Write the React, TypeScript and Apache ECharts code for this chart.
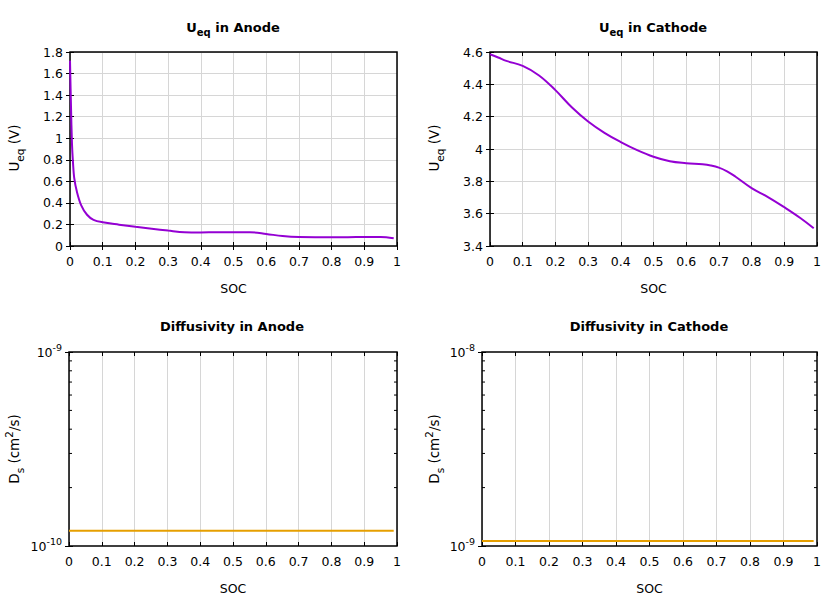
import React, { useEffect, useRef } from "react";
import * as echarts from "echarts";

const FONT = "DejaVu Sans";

// Anode equilibrium potential
const socAnode = [0, 0.003, 0.006, 0.009, 0.013, 0.021, 0.034, 0.052, 0.072, 0.1, 0.15, 0.2, 0.25, 0.3, 0.35, 0.4, 0.45, 0.5, 0.55, 0.6, 0.65, 0.7, 0.75, 0.8, 0.85, 0.9, 0.95, 0.99];
const ueqAnode = [1.72, 1.3, 0.95, 0.78, 0.63, 0.505, 0.38, 0.29, 0.243, 0.22, 0.198, 0.178, 0.16, 0.143, 0.128, 0.126, 0.128, 0.128, 0.128, 0.112, 0.092, 0.083, 0.082, 0.082, 0.082, 0.083, 0.084, 0.072];

// Cathode equilibrium potential
const socCathode = [0, 0.025, 0.05, 0.1, 0.15, 0.2, 0.25, 0.3, 0.35, 0.4, 0.45, 0.5, 0.55, 0.6, 0.65, 0.675, 0.7, 0.725, 0.75, 0.8, 0.85, 0.9, 0.95, 0.99];
const ueqCathode = [4.586, 4.566, 4.545, 4.514, 4.455, 4.364, 4.258, 4.17, 4.1, 4.043, 3.993, 3.952, 3.924, 3.912, 3.905, 3.898, 3.885, 3.862, 3.83, 3.758, 3.703, 3.64, 3.572, 3.51];

// Diffusivity
const socDs = [0, 0.99];
const dsAnode = [1.2e-10, 1.2e-10];
const dsCathode = [1.06e-9, 1.06e-9];

// Log-axis minor tick values
const minorAnode = [2e-10, 3e-10, 4e-10, 5e-10, 6e-10, 7e-10, 8e-10, 9e-10];
const minorCathode = [2e-9, 3e-9, 4e-9, 5e-9, 6e-9, 7e-9, 8e-9, 9e-9];

const titles = ["in Anode", "in Cathode", "Diffusivity in Anode", "Diffusivity in Cathode"];

const PURPLE = "#9400D3";
const ORANGE = "#E69F00";
const GRIDLINE = "#d6d6d6";
const TICKFS = 12.5;

const grids = [
  { left: 70, top: 52, width: 327, height: 194 },
  { left: 490, top: 52, width: 327, height: 194 },
  { left: 69, top: 352, width: 328, height: 194 },
  { left: 482, top: 352, width: 335, height: 194 },
];

const zip = (a: number[], b: number[]) => a.map((v, i) => [v, b[i]]);

const supRich = {
  base: { fontSize: TICKFS, fontFamily: FONT, color: "#000", lineHeight: 20 },
  sup: { fontSize: 9.5, fontFamily: FONT, color: "#000", verticalAlign: "top" as const },
};

const tickStyle = { show: true, inside: true, length: 4, lineStyle: { color: "#000", width: 1 } };

function xAxes(gi: number) {
  const common = {
    type: "value" as const,
    gridIndex: gi,
    min: 0,
    max: 1,
    interval: 0.1,
    axisLine: { show: false },
    axisTick: tickStyle,
  };
  return [
    {
      ...common,
      position: "bottom" as const,
      name: "SOC",
      nameLocation: "middle" as const,
      nameGap: 36,
      nameTextStyle: { fontSize: TICKFS, fontFamily: FONT, color: "#000" },
      axisLabel: { fontSize: TICKFS, fontFamily: FONT, color: "#000", margin: 9 },
      splitLine: { show: true, lineStyle: { color: GRIDLINE, width: 1 } },
    },
    {
      ...common,
      position: "top" as const,
      axisLabel: { show: false },
      splitLine: { show: false },
    },
  ];
}

function yAxesLinear(gi: number, min: number, max: number) {
  const common = {
    type: "value" as const,
    gridIndex: gi,
    min,
    max,
    interval: 0.2,
    axisLine: { show: false },
    axisTick: tickStyle,
  };
  return [
    {
      ...common,
      position: "left" as const,
      axisLabel: { fontSize: TICKFS, fontFamily: FONT, color: "#000", margin: 7 },
      splitLine: { show: true, lineStyle: { color: GRIDLINE, width: 1 } },
    },
    {
      ...common,
      position: "right" as const,
      axisLabel: { show: false },
      splitLine: { show: false },
    },
  ];
}

function yAxesLog(gi: number, min: number, max: number) {
  const common = {
    type: "log" as const,
    logBase: 10,
    gridIndex: gi,
    min,
    max,
    axisLine: { show: false },
    axisTick: tickStyle,
    splitLine: { show: false },
  };
  return [
    {
      ...common,
      position: "left" as const,
      axisLabel: {
        margin: 7,
        formatter: (v: number) => `{base|10}{sup|${Math.round(Math.log10(v))}}`,
        rich: supRich,
      },
    },
    {
      ...common,
      position: "right" as const,
      axisLabel: { show: false },
    },
  ];
}

function minorTickSeries(axisIdx: number, values: number[]) {
  return {
    type: "custom" as const,
    xAxisIndex: axisIdx,
    yAxisIndex: axisIdx,
    silent: true,
    clip: false,
    data: values.map((v) => [0, v]),
    renderItem: (params: any, api: any) => {
      const p = api.coord([0, api.value(1)]);
      const cs = params.coordSys;
      const st = { stroke: "#000", lineWidth: 1 };
      return {
        type: "group",
        children: [
          { type: "line", shape: { x1: cs.x, y1: p[1], x2: cs.x + 3, y2: p[1] }, style: st },
          { type: "line", shape: { x1: cs.x + cs.width - 3, y1: p[1], x2: cs.x + cs.width, y2: p[1] }, style: st },
        ],
      };
    },
  };
}

const subTitleRich = {
  b: { fontSize: 13, fontWeight: "bold" as const, fontFamily: FONT, color: "#000", lineHeight: 20 },
  s: { fontSize: 10, fontWeight: "bold" as const, fontFamily: FONT, color: "#000", verticalAlign: "bottom" as const },
};
const nameRich = {
  b: { fontSize: 13.5, fontFamily: FONT, color: "#000", lineHeight: 22 },
  s: { fontSize: 10.5, fontFamily: FONT, color: "#000", verticalAlign: "bottom" as const },
  p: { fontSize: 10.5, fontFamily: FONT, color: "#000", verticalAlign: "top" as const },
};

function titleText(x: number, y: number, text: string, rich?: any) {
  return {
    type: "text" as const,
    x,
    y,
    style: rich
      ? { text, rich, align: "center", verticalAlign: "middle" }
      : { text, fontSize: 13, fontWeight: "bold", fontFamily: FONT, fill: "#000", align: "center", verticalAlign: "middle" },
  };
}

function yName(x: number, y: number, text: string) {
  return {
    type: "text" as const,
    x,
    y,
    rotation: Math.PI / 2,
    style: { text, rich: nameRich, align: "center", verticalAlign: "middle" },
  };
}

export default function App() {
  const ref = useRef<HTMLDivElement>(null);
  useEffect(() => {
    if (!ref.current) return;
    const chart = echarts.init(ref.current, undefined, { renderer: "svg" });
    const lineBase = { type: "line", showSymbol: false };
    const option: any = {
      animation: false,
      backgroundColor: "#fff",
      grid: grids.map((g) => ({ ...g, show: true, borderColor: "#000", borderWidth: 1.5, backgroundColor: "transparent", z: 3 })),
      xAxis: [...xAxes(0), ...xAxes(1), ...xAxes(2), ...xAxes(3)],
      yAxis: [
        ...yAxesLinear(0, 0, 1.8),
        ...yAxesLinear(1, 3.4, 4.6),
        ...yAxesLog(2, 1e-10, 1e-9),
        ...yAxesLog(3, 1e-9, 1e-8),
      ],
      series: [
        {
          ...lineBase,
          xAxisIndex: 0,
          yAxisIndex: 0,
          data: zip(socAnode, ueqAnode),
          smooth: 0.35,
          lineStyle: { color: PURPLE, width: 2 },
          itemStyle: { color: PURPLE },
        },
        {
          ...lineBase,
          xAxisIndex: 2,
          yAxisIndex: 2,
          data: zip(socCathode, ueqCathode),
          smooth: 0.4,
          lineStyle: { color: PURPLE, width: 2 },
          itemStyle: { color: PURPLE },
        },
        {
          ...lineBase,
          xAxisIndex: 4,
          yAxisIndex: 4,
          data: zip(socDs, dsAnode),
          lineStyle: { color: ORANGE, width: 2 },
          itemStyle: { color: ORANGE },
        },
        {
          ...lineBase,
          xAxisIndex: 6,
          yAxisIndex: 6,
          data: zip(socDs, dsCathode),
          lineStyle: { color: ORANGE, width: 2 },
          itemStyle: { color: ORANGE },
        },
        minorTickSeries(4, minorAnode),
        minorTickSeries(6, minorCathode),
      ],
      graphic: [
        titleText(233, 27, `{b|U}{s|eq}{b| ${titles[0]}}`, subTitleRich),
        titleText(653, 27, `{b|U}{s|eq}{b| ${titles[1]}}`, subTitleRich),
        titleText(232, 326, titles[2]),
        titleText(649, 326, titles[3]),
        yName(14, 148, "{b|U}{s|eq}{b| (V)}"),
        yName(434, 148, "{b|U}{s|eq}{b| (V)}"),
        yName(14, 449, "{b|D}{s|s}{b| (cm}{p|2}{b|/s)}"),
        yName(434, 449, "{b|D}{s|s}{b| (cm}{p|2}{b|/s)}"),
      ],
    };
    chart.setOption(option);
    return () => chart.dispose();
  }, []);
  return (
    <div
      ref={ref}
      style={{ position: "fixed", left: 0, top: 0, width: 840, height: 600, background: "#fff" }}
    />
  );
}
